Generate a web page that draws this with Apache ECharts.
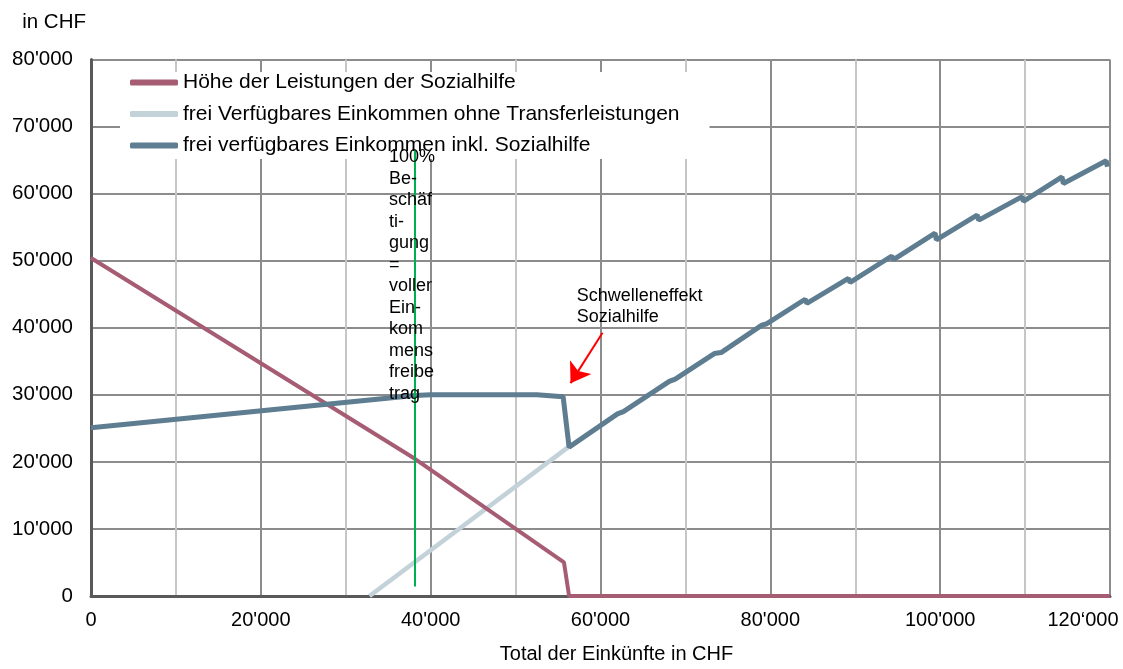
<!DOCTYPE html>
<html>
<head>
<meta charset="utf-8">
<script src="https://cdn.jsdelivr.net/npm/echarts@6/dist/echarts.min.js"></script>
<style>
  html, body { margin: 0; padding: 0; background: #fff; }
  #chart { width: 1123px; height: 669px; }
</style>
</head>
<body>
<div id="chart"></div>
<script>
// ---- data ----
const seriesNames = [
  "Höhe der Leistungen der Sozialhilfe",
  "frei Verfügbares Einkommen ohne Transferleistungen",
  "frei verfügbares Einkommen inkl. Sozialhilfe"
];
const xTickLabels = ["0", "20'000", "40'000", "60'000", "80'000", "100'000", "120‘000"];
const yTickLabels = ["0", "10'000", "20'000", "30'000", "40'000", "50'000", "60'000", "70'000", "80'000"];

// [Total der Einkünfte, Betrag]
const sozialhilfe = [
  [0, 50400], [38100, 20500], [55700, 5000], [56300, 0], [120000, 0]
];
const einkommenOhne = [
  [32800, 0], [56200, 22200]
];
const einkommenInkl = [
  [0, 25100], [38100, 29900], [40000, 30000], [52500, 30000], [55600, 29700],
  [56300, 22200], [62000, 27150], [62700, 27500], [68100, 32000], [68800, 32350],
  [73400, 36150], [74200, 36300], [79000, 40400], [79600, 40600], [84100, 44250],
  [84300, 43650], [89200, 47350], [89400, 46750], [94300, 50700], [94500, 50150],
  [99400, 54100], [99550, 53100], [104350, 56800], [104550, 56050], [109650, 59550],
  [109800, 58850], [114350, 62500], [114500, 61500], [119550, 64900], [119700, 64000]
];
const fullEmploymentLine = [[38100, 1400], [38100, 66500]];
const thresholdArrow = [[60240, 39250], [56470, 31740]];
const fullEmploymentText = ["100%", "Be-", "schäf", "ti-", "gung", "=", "voller", "Ein-", "kom", "mens", "freibe", "trag"];
const fullEmploymentTextAnchor = [35100, 67000];
const thresholdText = ["Schwelleneffekt", "Sozialhilfe"];
const thresholdTextAnchor = [57200, 46300];

const colors = ["#a65c72", "#c3d1d9", "#5e7d90"];
const FONT = "'Liberation Sans', Arial, sans-serif";

const chart = echarts.init(document.getElementById('chart'), null, { renderer: 'canvas' });

const option = {
  animation: false,
  backgroundColor: '#ffffff',
  textStyle: { fontFamily: FONT },
  grid: { left: 91, right: 13, top: 59.5, bottom: 66.5, containLabel: false },
  legend: {
    data: seriesNames,
    orient: 'vertical',
    left: 120,
    top: 72,
    padding: [0, 30, 3, 10],
    itemGap: 10.5,
    itemWidth: 48,
    itemHeight: 6,
    icon: 'roundRect',
    backgroundColor: '#ffffff',
    textStyle: { fontSize: 21, color: '#000', fontFamily: FONT },
    selectedMode: false
  },
  xAxis: {
    type: 'value',
    min: 0,
    max: 120000,
    interval: 20000,
    name: 'Total der Einkünfte in CHF',
    nameLocation: 'middle',
    nameGap: 48,
    nameTextStyle: { fontSize: 20, color: '#000', fontFamily: FONT, padding: [0, 0, 0, 32] },
    axisLine: { show: true, onZero: false, lineStyle: { color: '#595959', width: 3 } },
    axisTick: { show: false },
    axisLabel: {
      fontSize: 20, color: '#000', margin: 14, fontFamily: FONT,
      showMaxLabel: false,
      formatter: v => xTickLabels[Math.round(v / 20000)]
    },
    splitLine: { show: true, lineStyle: { color: '#8c8c8c', width: 2 } },
    minorTick: { show: false, splitNumber: 2 },
    minorSplitLine: { show: true, lineStyle: { color: '#c6c6c6', width: 2 } }
  },
  yAxis: {
    type: 'value',
    min: 0,
    max: 80000,
    interval: 10000,
    name: 'in CHF',
    nameLocation: 'end',
    nameGap: 37,
    nameTextStyle: { fontSize: 20.5, color: '#000', align: 'right', verticalAlign: 'middle', padding: [0, 5, 0, 0], fontFamily: FONT },
    axisLine: { show: true, lineStyle: { color: '#595959', width: 3 } },
    axisTick: { show: false },
    axisLabel: {
      fontSize: 20.5, color: '#000', margin: 18, fontFamily: FONT,
      formatter: v => yTickLabels[Math.round(v / 10000)]
    },
    splitLine: { show: true, lineStyle: { color: '#8c8c8c', width: 2 } }
  },
  series: [
    {
      name: seriesNames[0], type: 'line', data: sozialhilfe, z: 3,
      showSymbol: false, symbol: 'none', color: colors[0],
      lineStyle: { width: 4, color: colors[0] }
    },
    {
      name: seriesNames[1], type: 'line', data: einkommenOhne, z: 2,
      showSymbol: false, symbol: 'none', color: colors[1],
      lineStyle: { width: 4.5, color: colors[1] }
    },
    {
      name: seriesNames[2], type: 'line', data: einkommenInkl, z: 4,
      showSymbol: false, symbol: 'none', color: colors[2],
      lineStyle: { width: 5, color: colors[2] }
    },
    {
      name: 'annotations', type: 'line', data: [], z: 5,
      markLine: {
        silent: true,
        animation: false,
        label: { show: false },
        emphasis: { disabled: true },
        data: [
          [
            { coord: fullEmploymentLine[0], symbol: 'none', lineStyle: { color: '#00b050', width: 2, type: 'solid' } },
            { coord: fullEmploymentLine[1], symbol: 'none' }
          ],
          [
            { coord: thresholdArrow[0], symbol: 'none', lineStyle: { color: '#ff0000', width: 2, type: 'solid' } },
            { coord: thresholdArrow[1], symbol: 'arrow', symbolSize: 19 }
          ]
        ]
      }
    }
  ]
};

chart.setOption(option);

const p1 = chart.convertToPixel({ gridIndex: 0 }, fullEmploymentTextAnchor);
const p2 = chart.convertToPixel({ gridIndex: 0 }, thresholdTextAnchor);
const pMax = chart.convertToPixel({ gridIndex: 0 }, [120000, 0]);

chart.setOption({
  graphic: [
    {
      type: 'text', z: 100, x: p1[0], y: p1[1],
      style: { text: fullEmploymentText.join('\n'), lineHeight: 21.5, fill: '#000', font: '18px ' + FONT, verticalAlign: 'top' }
    },
    {
      type: 'text', z: 100, x: p2[0], y: p2[1],
      style: { text: thresholdText.join('\n'), lineHeight: 21, fill: '#000', font: '18px ' + FONT, verticalAlign: 'top' }
    },
    {
      type: 'text', z: 100, x: pMax[0] - 27, y: pMax[1] + 24.5,
      style: { text: xTickLabels[xTickLabels.length - 1], fill: '#000', font: '20px ' + FONT, align: 'center', verticalAlign: 'middle' }
    }
  ]
});
</script>
</body>
</html>
